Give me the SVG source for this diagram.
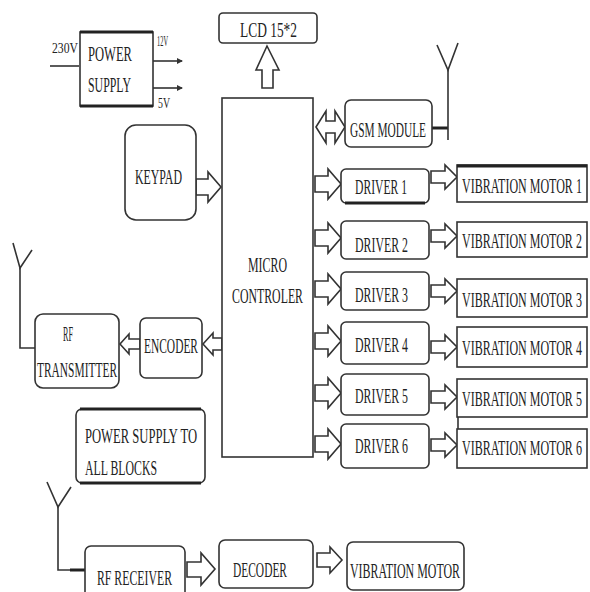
<svg xmlns="http://www.w3.org/2000/svg" xmlns:xlink="http://www.w3.org/1999/xlink" width="590" height="592" viewBox="0 0 590 592">
<style>
.bx{fill:#fff;stroke:#333;stroke-width:1.6}
.ln{fill:none;stroke:#333;stroke-width:1.6}
.th{fill:none;stroke:#222;stroke-width:3}
.ar{fill:#fff;stroke:#333;stroke-width:1.6;stroke-linejoin:miter}
.t{font-family:"Liberation Serif","Times New Roman",serif;fill:#222;font-size:21px}
.s{font-size:15px}
</style>
<defs>
<path id="da" d="M0,-8 H13 V-15 L26,0 L13,15 V8 H0 Z"/>
<path id="va" d="M0,-6 H14 V-12 L26,0 L14,12 V6 H0 Z"/>
<marker id="dot" markerWidth="6" markerHeight="6" refX="5" refY="3" orient="auto" markerUnits="userSpaceOnUse"><path d="M0,0 L6,3 L0,6 Z" fill="#333"/></marker>
</defs>
<rect width="590" height="592" fill="#fff"/>

<g id="connectors">
<line class="ln" x1="50" y1="66" x2="79" y2="66"/>
<line class="ln" x1="153" y1="61" x2="182" y2="61" marker-end="url(#dot)"/>
<line class="ln" x1="153" y1="88" x2="182" y2="88" marker-end="url(#dot)"/>
<polygon class="ar" points="267,46 279,70 273,70 273,88 262,88 262,70 256,70"/>
<polygon class="ar" points="316,127 326,111 326,121 335,121 335,111 345,127 335,143 335,133 326,133 326,143"/>
<polygon class="ar" points="196,179 208,179 208,172 221,187 208,202 208,195 196,195"/>
<polygon class="ar" points="203,344 213,333 213,338 222,338 222,350 213,350 213,355"/>
<polygon class="ar" points="120,344 129,334 129,339 140,339 140,349 129,349 129,354"/>
<use href="#da" class="ar" x="315" y="184"/>
<use href="#da" class="ar" x="315" y="238"/>
<use href="#da" class="ar" x="315" y="289"/>
<use href="#da" class="ar" x="315" y="341"/>
<use href="#da" class="ar" x="315" y="393"/>
<use href="#da" class="ar" x="315" y="444"/>
<use href="#va" class="ar" x="431" y="177"/>
<use href="#va" class="ar" x="431" y="236"/>
<use href="#va" class="ar" x="431" y="291"/>
<use href="#va" class="ar" x="431" y="347"/>
<use href="#va" class="ar" x="431" y="397"/>
<use href="#va" class="ar" x="431" y="445"/>
<polygon class="ar" points="187,562 201,562 201,553 215,569 201,585 201,577 187,577"/>
<polygon class="ar" points="317,553 330,553 330,547 342,560 330,573 330,567 317,567"/>
<line class="ln" x1="458" y1="417" x2="458" y2="429"/>
<line class="th" x1="432" y1="128" x2="448" y2="128"/>
<line class="ln" x1="448" y1="70" x2="448" y2="140"/>
<polyline class="ln" points="437,45 448,70 458,43"/>
<polyline class="ln" points="35,348 20,348 20,268"/>
<polyline class="ln" points="13,243 20,268 32,250"/>
<polyline class="ln" points="85,570 58,570 58,507"/>
<line class="th" x1="70" y1="570" x2="85" y2="570"/>
<polyline class="ln" points="47,482 58,507 71,487"/>
</g>

<g id="power">
<rect class="bx" x="80" y="32" width="73" height="74"/>
<line class="th" x1="80" y1="32" x2="153" y2="32"/>
<line class="th" x1="80" y1="106" x2="153" y2="106"/>
<text class="t" x="88" y="61" textLength="44" lengthAdjust="spacingAndGlyphs">POWER</text>
<text class="t" x="88" y="92" textLength="43" lengthAdjust="spacingAndGlyphs">SUPPLY</text>
<text class="t s" x="52" y="53" textLength="26" lengthAdjust="spacingAndGlyphs">230V</text>
<text class="t s" x="157" y="46" textLength="11" lengthAdjust="spacingAndGlyphs">12V</text>
<text class="t s" x="158" y="108" textLength="12" lengthAdjust="spacingAndGlyphs">5V</text>
</g>

<g id="lcd">
<rect class="bx" x="219" y="13" width="98" height="30" rx="4" stroke-width="2.6"/>
<text class="t" x="240" y="37" font-size="19" textLength="57" lengthAdjust="spacingAndGlyphs">LCD  15*2</text>
</g>

<g id="micro">
<rect class="bx" x="222" y="98" width="91" height="359"/>
<text class="t" x="248" y="272" textLength="39" lengthAdjust="spacingAndGlyphs">MICRO</text>
<text class="t" x="232" y="303" textLength="71" lengthAdjust="spacingAndGlyphs">CONTROLER</text>
</g>

<g id="keypad">
<rect class="bx" x="125" y="125" width="71" height="95" rx="11"/>
<text class="t" x="135" y="184" textLength="47" lengthAdjust="spacingAndGlyphs">KEYPAD</text>
</g>

<g id="gsm">
<rect class="bx" x="345" y="100" width="87" height="47" rx="6" stroke-width="2"/>
<text class="t" x="350" y="137" textLength="76" lengthAdjust="spacingAndGlyphs">GSM MODULE</text>
</g>

<g id="encoder">
<rect class="bx" x="140" y="318" width="62" height="60" rx="6"/>
<text class="t" x="144" y="353" textLength="54" lengthAdjust="spacingAndGlyphs">ENCODER</text>
</g>

<g id="rf-transmitter">
<rect class="bx" x="35" y="314" width="84" height="74" rx="8"/>
<text class="t" x="63" y="341" textLength="10" lengthAdjust="spacingAndGlyphs">RF</text>
<text class="t" x="37" y="377" textLength="80" lengthAdjust="spacingAndGlyphs">TRANSMITTER</text>
</g>

<g id="power-all">
<rect class="bx" x="76" y="409" width="129" height="74" rx="6"/>
<line class="th" x1="80" y1="409" x2="201" y2="409"/>
<line class="th" x1="80" y1="483" x2="201" y2="483"/>
<text class="t" x="85" y="443" textLength="112" lengthAdjust="spacingAndGlyphs">POWER SUPPLY TO</text>
<text class="t" x="85" y="475" textLength="72" lengthAdjust="spacingAndGlyphs">ALL BLOCKS</text>
</g>

<g id="driver1"><rect class="bx" x="341" y="169" width="88" height="34" rx="5"/><line class="th" x1="345" y1="203" x2="425" y2="203"/><text class="t" x="355" y="194" textLength="52" lengthAdjust="spacingAndGlyphs">DRIVER  1</text></g>
<g id="driver2"><rect class="bx" x="341" y="221" width="88" height="38" rx="5"/><text class="t" x="355" y="252" textLength="53" lengthAdjust="spacingAndGlyphs">DRIVER  2</text></g>
<g id="driver3"><rect class="bx" x="341" y="272" width="88" height="38" rx="5"/><text class="t" x="355" y="302" textLength="53" lengthAdjust="spacingAndGlyphs">DRIVER  3</text></g>
<g id="driver4"><rect class="bx" x="341" y="322" width="88" height="42" rx="5"/><text class="t" x="355" y="352" textLength="53" lengthAdjust="spacingAndGlyphs">DRIVER  4</text></g>
<g id="driver5"><rect class="bx" x="341" y="374" width="88" height="41" rx="5"/><text class="t" x="355" y="403" textLength="53" lengthAdjust="spacingAndGlyphs">DRIVER  5</text></g>
<g id="driver6"><rect class="bx" x="341" y="424" width="88" height="44" rx="5"/><text class="t" x="355" y="453" textLength="53" lengthAdjust="spacingAndGlyphs">DRIVER  6</text></g>

<g id="motor1"><rect class="bx" x="457" y="165" width="130" height="37"/><line class="th" x1="457" y1="166" x2="587" y2="166"/><text class="t" transform="translate(462 193) scale(0.55 1)" textLength="218" lengthAdjust="spacingAndGlyphs">VIBRATION  MOTOR 1</text></g>
<g id="motor2"><rect class="bx" x="457" y="222" width="130" height="35"/><text class="t" transform="translate(462 248) scale(0.55 1)" textLength="218" lengthAdjust="spacingAndGlyphs">VIBRATION  MOTOR 2</text></g>
<g id="motor3"><rect class="bx" x="457" y="279" width="130" height="38"/><text class="t" transform="translate(462 307) scale(0.55 1)" textLength="218" lengthAdjust="spacingAndGlyphs">VIBRATION  MOTOR 3</text></g>
<g id="motor4"><rect class="bx" x="457" y="327" width="130" height="40"/><text class="t" transform="translate(462 355) scale(0.55 1)" textLength="218" lengthAdjust="spacingAndGlyphs">VIBRATION  MOTOR 4</text></g>
<g id="motor5"><rect class="bx" x="457" y="379" width="130" height="38"/><text class="t" transform="translate(462 406) scale(0.55 1)" textLength="218" lengthAdjust="spacingAndGlyphs">VIBRATION  MOTOR 5</text></g>
<g id="motor6"><rect class="bx" x="457" y="429" width="130" height="39"/><text class="t" transform="translate(462 455) scale(0.55 1)" textLength="218" lengthAdjust="spacingAndGlyphs">VIBRATION  MOTOR 6</text></g>

<g id="rf-receiver">
<rect class="bx" x="85" y="546" width="100" height="60" rx="6"/>
<text class="t" x="97" y="585" textLength="75" lengthAdjust="spacingAndGlyphs">RF RECEIVER</text>
</g>
<g id="decoder">
<rect class="bx" x="219" y="540" width="94" height="48" rx="6"/>
<text class="t" x="233" y="577" textLength="54" lengthAdjust="spacingAndGlyphs">DECODER</text>
</g>
<g id="motor">
<rect class="bx" x="347" y="542" width="117" height="48" rx="6"/>
<text class="t" x="350" y="578" textLength="110" lengthAdjust="spacingAndGlyphs">VIBRATION  MOTOR</text>
</g>
</svg>
